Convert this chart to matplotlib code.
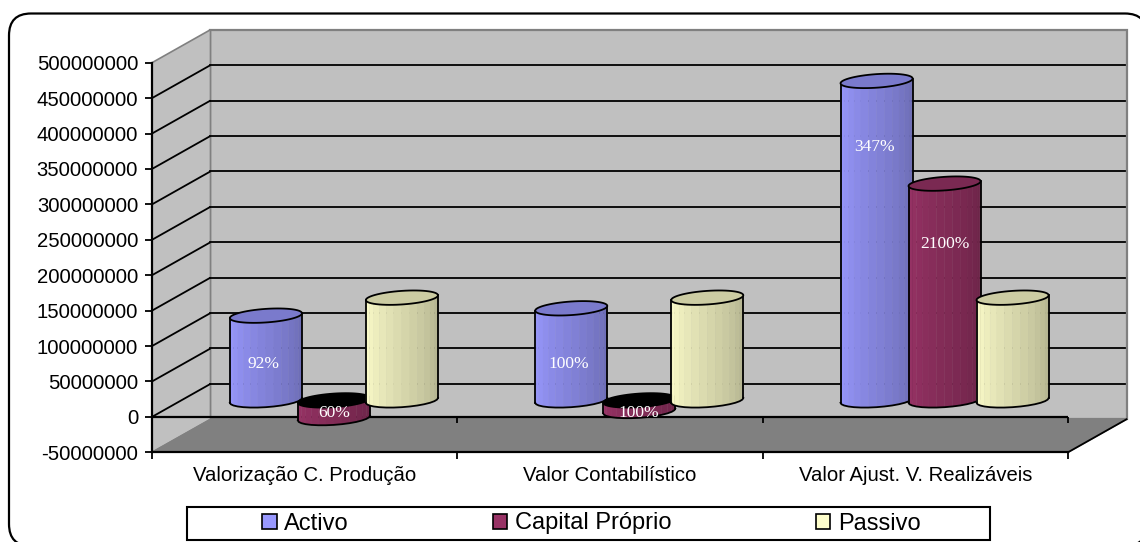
import numpy as np
import matplotlib
matplotlib.use("Agg")
import matplotlib.pyplot as plt
from matplotlib.patches import FancyBboxPatch, Patch, Polygon, Rectangle

categories = ["Valorização C. Produção", "Valor Contabilístico", "Valor Ajust. V. Realizáveis"]
series_names = ["Activo", "Capital Próprio", "Passivo"]
activo = [119600000, 130000000, 451000000]
capital = [-25000000, -15000000, 306000000]
passivo = [145000000, 145000000, 145000000]
activo_labels = ["92%", "100%", "347%"]
capital_labels = ["60%", "100%", "2100%"]
# height of the percentage labels, they do not follow the bar tops
activo_label_y = [51500000, 51500000, 358000000]
capital_label_y = [-17600000, -17600000, 221000000]
yticks = np.arange(-50000000, 500000001, 50000000)
colors = ["#9999FF", "#993366", "#FFFFCC"]

W, H = 1140, 542
LEFT, RIGHT, TOP, BOTTOM = 152, 1068, 62.7, 452.3
XMIN, XMAX = -0.5, 2.5
YMIN, YMAX = -50000000, 500000000
xu = (XMAX - XMIN) / (RIGHT - LEFT)   # x units per pixel
yu = (YMAX - YMIN) / (BOTTOM - TOP)   # y units per pixel
DX = 58.5 * xu   # depth of the box
DY = 33 * yu
SPACING = 68 * xu
R = 34 * xu       # cylinder radius along the front
RX = 12 * xu      # ellipse shear caused by the oblique view
RY = 7.2 * yu

plt.rcParams["font.family"] = ["Liberation Sans", "DejaVu Sans"]
fig = plt.figure(figsize=(W / 100, H / 100), dpi=100)
ax = fig.add_axes([LEFT / W, 1 - BOTTOM / H, (RIGHT - LEFT) / W, (BOTTOM - TOP) / H])
ax.set_xlim(XMIN, XMAX)
ax.set_ylim(YMIN, YMAX)
ax.patch.set_visible(False)

# the outer frame runs past the right and bottom edge of the image
frame = FancyBboxPatch((9 / W, 1 - 546 / H), 1138 / W, 532.5 / H, transform=fig.transFigure,
                       boxstyle="round,pad=0,rounding_size=0.0193", mutation_aspect=W / H,
                       fc="white", ec="black", lw=1.6, zorder=-5)
fig.add_artist(frame)


def cylinder(cx, value, color, z):
    base = np.array(matplotlib.colors.to_rgb(color))
    low, high = min(value, 0), max(value, 0)
    t0 = np.arctan2(RX / xu, R / xu)
    t = np.linspace(t0 + np.pi, t0 + 2 * np.pi, 15)
    xs = cx + DX / 2 + R * np.cos(t) + RX * np.sin(t)
    ys = DY / 2 + RY * np.sin(t)
    # body, drawn as vertical bands getting darker to the right
    shades = np.linspace(1.0, 0.74, len(t) - 1) ** 1.2
    for i in range(len(t) - 1):
        ax.fill([xs[i], xs[i + 1], xs[i + 1], xs[i]],
                [ys[i] + high, ys[i + 1] + high, ys[i + 1] + low, ys[i] + low],
                color=base * shades[i], lw=0.3, zorder=z, clip_on=False)
    ax.plot(xs, ys + low, color="black", lw=1.3, zorder=z + 0.1, clip_on=False)
    ax.plot([xs[0], xs[0]], [ys[0] + low, ys[0] + high], color="black", lw=1.3, zorder=z + 0.1, clip_on=False)
    ax.plot([xs[-1], xs[-1]], [ys[-1] + low, ys[-1] + high], color="black", lw=1.3, zorder=z + 0.1, clip_on=False)
    # top
    a = np.linspace(0, 2 * np.pi, 60)
    top = "black" if value < 0 else base * 0.8
    ax.fill(cx + DX / 2 + R * np.cos(a) + RX * np.sin(a), high + DY / 2 + RY * np.sin(a),
            fc=top, ec="black", lw=1.3, zorder=z + 0.2, clip_on=False)


# walls and floor
wall = dict(clip_on=False, zorder=1)
ax.add_patch(Polygon([(XMIN + DX, YMIN + DY), (XMAX + DX, YMIN + DY), (XMAX + DX, YMAX + DY), (XMIN + DX, YMAX + DY)],
                     fc="#C0C0C0", ec="#808080", lw=1.6, **wall))
ax.add_patch(Polygon([(XMIN, YMIN), (XMIN + DX, YMIN + DY), (XMIN + DX, YMAX + DY), (XMIN, YMAX)],
                     fc="#C0C0C0", ec="#808080", lw=1.2, **wall))
ax.add_patch(Polygon([(XMIN, YMIN), (XMAX, YMIN), (XMAX + DX, YMIN + DY), (XMIN + DX, YMIN + DY)],
                     fc="#808080", ec="#808080", lw=1, **wall))

# gridlines on the side wall and the back wall
for v in yticks[1:-1]:
    ax.plot([XMIN, XMIN + DX], [v, v + DY], color="black", lw=1.3, zorder=2, clip_on=False, solid_capstyle="butt")
    ax.plot([XMIN + DX, XMAX + DX - 0.005], [v + DY, v + DY], color="black", lw=1.3, zorder=2, clip_on=False)
ax.plot([XMAX, XMAX + DX], [YMIN, YMIN + DY], color="black", lw=1.3, zorder=2, clip_on=False)

# zero line in front of the floor
ax.axhline(0, color="black", lw=1.6, zorder=3)
ax.plot(np.arange(-0.5, 3), np.zeros(4), ls="none", marker=3, ms=4, mew=1.3, color="black", zorder=3)

for c in range(3):
    cylinder(c - SPACING, activo[c], colors[0], 4)
    cylinder(c, capital[c], colors[1], 5)
    cylinder(c + SPACING, passivo[c], colors[2], 6)
    ax.text(c - SPACING + DX / 2 - 2 * xu, activo_label_y[c] + DY / 2, activo_labels[c], color="white",
            family=["Liberation Serif"], fontsize=12.5, ha="center", va="center", zorder=8)
    ax.text(c + DX / 2, capital_label_y[c] + DY / 2, capital_labels[c], color="white",
            family=["Liberation Serif"], fontsize=12.5, ha="center", va="center", zorder=8)

for side in ["top", "right"]:
    ax.spines[side].set_visible(False)
ax.spines["left"].set_linewidth(1.6)
ax.spines["bottom"].set_linewidth(1.6)
ax.spines["left"].set_zorder(3)
ax.spines["bottom"].set_zorder(3)
ax.set_yticks(yticks)
ax.set_yticklabels([str(v) for v in yticks], fontsize=14.6)
ax.tick_params(axis="y", length=5, width=1.3, pad=5)
ax.set_xticks([0, 1, 2])
ax.set_xticklabels(categories, fontsize=14.6)
ax.set_xticks([-0.5, 0.5, 1.5, 2.5], minor=True)
ax.tick_params(axis="x", which="major", length=0, pad=10)
ax.tick_params(axis="x", which="minor", length=5, width=1.3)

# legend box is wider than its entries, so frame and entries are separate
fig.add_artist(Rectangle((187 / W, 1 - 540 / H), 803 / W, 33 / H, transform=fig.transFigure,
                         fc="white", ec="black", lw=1.5))
handles = [Patch(fc=c, ec="black", lw=1.2) for c in colors]
leg = fig.legend(handles, series_names, ncol=3, loc="center left",
                 bbox_to_anchor=(262 / W, 1 - 523.5 / H),
                 fontsize=17, frameon=False, borderaxespad=0, borderpad=0,
                 handlelength=0.62, handleheight=0.62, handletextpad=0.32, columnspacing=6.1)

fig.savefig("out.png", dpi=100)
